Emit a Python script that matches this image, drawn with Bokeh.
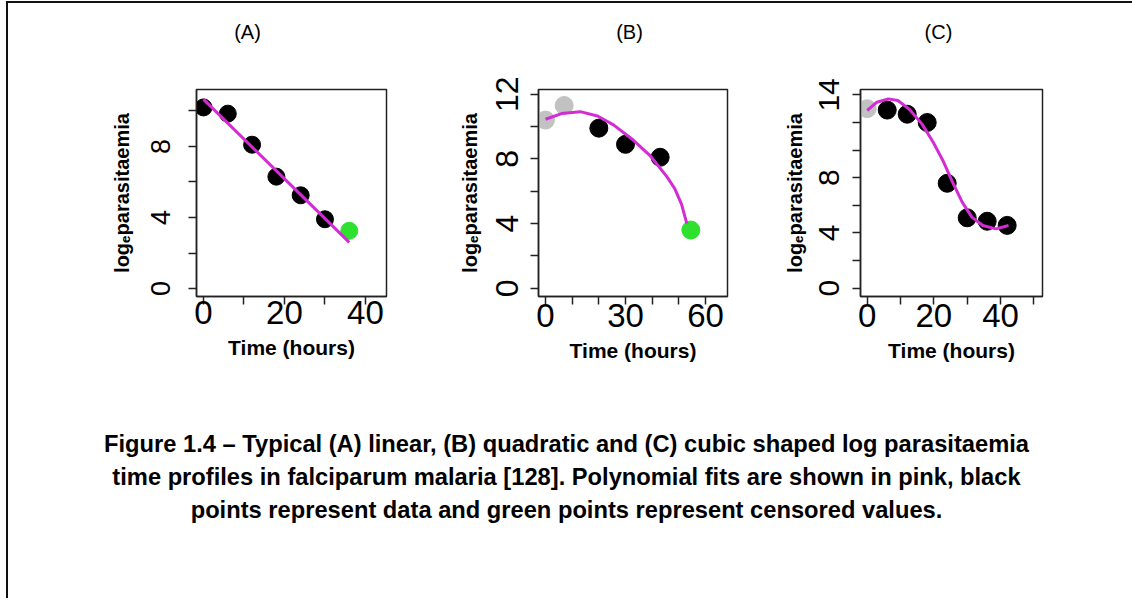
from bokeh.plotting import figure
from bokeh.models import Range1d, FixedTicker
from bokeh.layouts import column, row
from bokeh.embed import file_html
from bokeh.resources import INLINE
from bokeh.core.properties import value

# ---------------- data ----------------
panel_titles = ["(A)", "(B)", "(C)"]
x_title = "Time (hours)"
y_title = "logₑparasitaemia"
caption_lines = [
    "Figure 1.4 – Typical (A) linear, (B) quadratic and (C) cubic shaped log parasitaemia",
    "time profiles in falciparum malaria [128]. Polynomial fits are shown in pink, black",
    "points represent data and green points represent censored values.",
]

# Panel A (linear)
a_time = [0, 6, 12, 18, 24, 30]
a_logp = [10.2, 9.85, 8.1, 6.3, 5.25, 3.9]
a_cens_time = [36]
a_cens_logp = [3.25]
a_fit_time = [0, 36]
a_fit_logp = [10.65, 2.6]
a_xticks = [0, 10, 20, 30, 40]
a_xlabels = [0, 20, 40]
a_yticks = [0, 2, 4, 6, 8, 10]
a_ylabels = [0, 4, 8]

# Panel B (quadratic)
b_excl_time = [0, 7]
b_excl_logp = [10.4, 11.3]
b_time = [20, 30, 43]
b_logp = [9.9, 8.9, 8.1]
b_cens_time = [54.5]
b_cens_logp = [3.6]
b_fit_time = [0, 6, 13, 19.5, 25.5, 33, 39.5, 45.5, 48.5, 51, 53]
b_fit_logp = [10.45, 10.8, 10.92, 10.65, 10.1, 9.15, 8.15, 6.9, 6.15, 5.2, 4.0]
b_xticks = [0, 10, 20, 30, 40, 50, 60]
b_xlabels = [0, 30, 60]
b_yticks = [0, 2, 4, 6, 8, 10, 12]
b_ylabels = [0, 4, 8, 12]

# Panel C (cubic)
c_excl_time = [0]
c_excl_logp = [13.0]
c_time = [6, 12, 18, 24, 30, 36, 42]
c_logp = [12.9, 12.6, 12.0, 7.6, 5.1, 4.85, 4.55]
c_fit_time = [0, 2.9, 6.3, 9.2, 12.5, 16.4, 19.8, 22.7, 25.6, 28.5, 31.4, 34.7, 38.6, 42.4]
c_fit_logp = [12.87, 13.47, 13.71, 13.59, 12.99, 11.9, 10.57, 9.25, 7.68, 6.23, 5.15, 4.54, 4.3, 4.54]
c_xticks = [0, 10, 20, 30, 40, 50]
c_xlabels = [0, 20, 40]
c_yticks = [0, 2, 4, 6, 8, 10, 12, 14]
c_ylabels = [0, 4, 8, 14]

# ---------------- styles ----------------
FONT = "Liberation Sans"
BLACK = "#000000"
GREY = "#c2c2c2"
GREEN = "#2fe02f"
PINK = "#d42cd4"
EDGE = "#111111"
TOP_H = 59
MID_H = 318
BOT_H = 218


def blank(width, height):
    p = figure(width=width, height=height, x_range=Range1d(0, width), y_range=Range1d(height, 0),
               x_axis_location=None, y_axis_location=None, toolbar_location=None,
               output_backend="svg", min_border=0)
    p.grid.visible = False
    p.outline_line_color = None
    p.background_fill_color = "white"
    p.border_fill_color = "white"
    return p


def panel(width, xr, yr, xticks, xlabels, yticks, ylabels, bl, br, xfs, yfs,
          x_std, y_std, xl_std, yl_std):
    p = figure(width=width, height=MID_H, x_range=Range1d(*xr), y_range=Range1d(*yr),
               toolbar_location=None, output_backend="svg",
               min_border_left=bl, min_border_right=br, min_border_top=27, min_border_bottom=84)
    p.grid.visible = False
    p.outline_line_color = "#222222"
    p.outline_line_width = 1.5
    p.background_fill_color = "white"
    p.border_fill_color = "white"
    for ax, ticks, labels, fs, std, lstd in ((p.xaxis[0], xticks, xlabels, xfs, x_std, xl_std),
                                              (p.yaxis[0], yticks, ylabels, yfs, y_std, yl_std)):
        ax.ticker = FixedTicker(ticks=ticks)
        ax.major_label_overrides = {t: (str(t) if t in labels else "") for t in ticks}
        ax.minor_tick_line_color = None
        ax.major_tick_in = 0
        ax.major_tick_out = 8
        ax.major_tick_line_color = "#222222"
        ax.major_tick_line_width = 1.5
        ax.axis_line_color = "#222222"
        ax.axis_line_width = 1.5
        ax.major_label_text_font = FONT
        ax.major_label_text_font_size = f"{fs}px"
        ax.major_label_text_color = BLACK
        ax.major_label_standoff = std
        ax.axis_label_text_font = FONT
        ax.axis_label_text_font_style = "bold"
        ax.axis_label_text_color = BLACK
        ax.axis_label_standoff = lstd
    p.xaxis.axis_label = x_title
    p.xaxis.axis_label_text_font_size = "21px"
    p.yaxis.axis_label = y_title
    p.yaxis.axis_label_text_font_size = "20px"
    p.yaxis.major_label_orientation = "vertical"
    return p


# ---------------- top strip (titles) ----------------
top = blank(1124, TOP_H)
top.text(x=[239, 621, 930], y=[28, 28, 28], text=panel_titles, text_font=value(FONT),
         text_font_size="20px", text_align="center", text_baseline="middle", text_color=BLACK)

# ---------------- middle row (panels) ----------------
pA = panel(432, (-1.73, 45.2), (-0.45, 11.21), a_xticks, a_xlabels, a_yticks, a_ylabels,
           188, 54, 33, 27, -4, 18, 9, 16)
pA.scatter(a_time, a_logp, size=17, color=BLACK)
pA.scatter(a_cens_time, a_cens_logp, size=17, color=GREEN)
pA.line(a_fit_time, a_fit_logp, line_color=PINK, line_width=3)

pB = panel(340, (-2.63, 68.25), (-0.51, 12.29), b_xticks, b_xlabels, b_yticks, b_ylabels,
           98, 53, 33, 32, -1, 12, 9, 13)
pB.scatter(b_excl_time, b_excl_logp, size=18, color=GREY)
pB.scatter(b_time, b_logp, size=18, color=BLACK)
pB.scatter(b_cens_time, b_cens_logp, size=18, color=GREEN)
pB.line(b_fit_time, b_fit_logp, line_color=PINK, line_width=3)

pC = panel(352, (-2.02, 52.6), (-0.6, 14.39), c_xticks, c_xlabels, c_yticks, c_ylabels,
           73, 90, 33, 30, -1, 13, 9, 11)
pC.scatter(c_excl_time, c_excl_logp, size=18, color=GREY)
pC.scatter(c_time, c_logp, size=18, color=BLACK)
pC.line(c_fit_time, c_fit_logp, line_color=PINK, line_width=3)

# ---------------- caption ----------------
bot = blank(1124, BOT_H)
bot.text(x=[558, 558, 558], y=[63, 96, 129], text=caption_lines, text_font=value(FONT),
         text_font_style="bold", text_font_size="23.7px", text_align="center",
         text_baseline="middle", text_color=BLACK)

layout = column(top, row(pA, pB, pC), bot, margin=(1, 0, 0, 6),
                styles={"border-left": f"2px solid {EDGE}", "border-top": f"2px solid {EDGE}"})
open("out.html", "w").write(file_html(layout, INLINE))
